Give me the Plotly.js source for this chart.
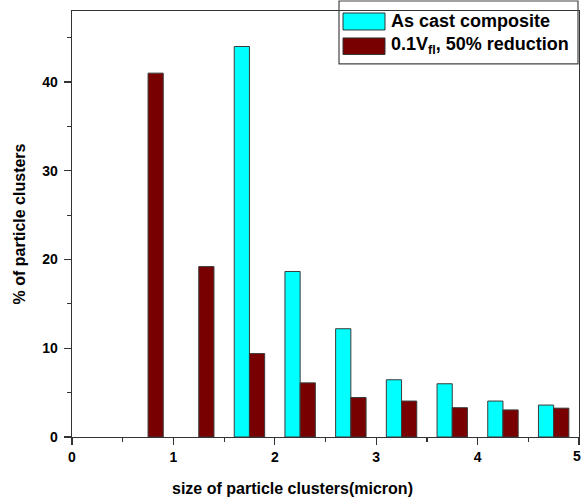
<!DOCTYPE html>
<html>
<head>
<meta charset="utf-8">
<script src="https://cdn.plot.ly/plotly-3.0.1.min.js"></script>
<style>html,body{margin:0;padding:0;background:#fff;}#chart{width:581px;height:500px;}</style>
</head>
<body>
<div id="chart"></div>
<script>
// ---- data ----
var sizes = [0.75, 1.25, 1.75, 2.25, 2.75, 3.25, 3.75, 4.25, 4.75];
var asCast = [null, null, 44.0, 18.65, 12.2, 6.45, 6.0, 4.05, 3.6];
var reduced = [41.0, 19.2, 9.4, 6.1, 4.45, 4.05, 3.3, 3.05, 3.25];
var seriesNames = ["As cast composite", "0.1V<sub>fl</sub>, 50% reduction"];
var seriesColors = ["#00FFFF", "#780000"];
var xTickVals = [0, 1, 2, 3, 4, 5];
var xTickText = ["0", "1", "2", "3", "4", "5"];
var yTickVals = [0, 10, 20, 30, 40];
var yTickText = ["0", "10", "20", "30", "40"];
var xTitle = "size of particle clusters(micron)";
var yTitle = "% of particle clusters";

// ---- layout helpers (pixel -> paper) ----
var W = 581, H = 500, mL = 72, mR = 2, mT = 11, mB = 62.5;
var pw = W - mL - mR, ph = H - mT - mB;
function px(x) { return (x - mL) / pw; }
function py(y) { return (H - mB - y) / ph; }
function bold(s) { return "<b>" + s + "</b>"; }

var font = "Liberation Sans, Arial, sans-serif";
var traces = [
  {type: "bar", x: sizes, y: asCast, name: seriesNames[0], showlegend: false,
   marker: {color: seriesColors[0], line: {color: "#3a3a3a", width: 1}}},
  {type: "bar", x: sizes, y: reduced, name: seriesNames[1], showlegend: false,
   marker: {color: seriesColors[1], line: {color: "#3a3a3a", width: 1}}}
];

// last x tick label sits at the right edge: draw it as an annotation kept inside the page
var lastIdx = xTickVals.length - 1;
var xTickTextShown = xTickText.map(function (s, i) { return i === lastIdx ? "" : bold(s); });

var shapes = [
  {type: "rect", xref: "paper", yref: "paper", x0: px(339), x1: px(578), y0: py(64), y1: py(1),
   line: {color: "#444", width: 1.2}, fillcolor: "rgba(255,255,255,0)"},
  {type: "rect", xref: "paper", yref: "paper", x0: px(343), x1: px(385), y0: py(30), y1: py(13),
   line: {color: "#333", width: 1}, fillcolor: seriesColors[0]},
  {type: "rect", xref: "paper", yref: "paper", x0: px(343), x1: px(385), y0: py(54.5), y1: py(38),
   line: {color: "#333", width: 1}, fillcolor: seriesColors[1]}
];

var annotations = [
  {xref: "paper", yref: "paper", x: px(389), y: py(21.5), xanchor: "left", yanchor: "middle",
   text: bold(seriesNames[0]), showarrow: false, font: {family: font, size: 18, color: "#000"}},
  {xref: "paper", yref: "paper", x: px(389), y: py(46), xanchor: "left", yanchor: "middle",
   text: bold(seriesNames[1]), showarrow: false, font: {family: font, size: 18, color: "#000"}},
  {xref: "paper", yref: "paper", x: px(292), y: py(489), xanchor: "center", yanchor: "middle",
   text: bold(xTitle), showarrow: false, font: {family: font, size: 16, color: "#000"}},
  {xref: "x", yref: "paper", x: xTickVals[lastIdx], y: py(457), xanchor: "center", yanchor: "middle",
   xshift: -2, text: bold(xTickText[lastIdx]), showarrow: false, font: {family: font, size: 14, color: "#000"}}
];

var layout = {
  width: W, height: H,
  margin: {l: mL, r: mR, t: mT, b: mB, pad: 0},
  paper_bgcolor: "#fff", plot_bgcolor: "#fff",
  font: {family: font, color: "#000"},
  barmode: "group", bargap: 0.4, bargroupgap: 0,
  showlegend: false,
  xaxis: {
    range: [0, 5], tickvals: xTickVals, ticktext: xTickTextShown,
    ticks: "outside", ticklen: 7, tickwidth: 1.2, tickcolor: "#333",
    minor: {dtick: 0.5, tick0: 0, ticks: "outside", ticklen: 4, tickwidth: 1.2, tickcolor: "#333"},
    showline: true, linecolor: "#333", linewidth: 1.3, mirror: true,
    showgrid: false, zeroline: false,
    tickfont: {family: font, size: 14, color: "#000"}
  },
  yaxis: {
    range: [0, 48], tickvals: yTickVals, ticktext: yTickText.map(bold),
    ticks: "outside", ticklen: 7, tickwidth: 1.2, tickcolor: "#333",
    minor: {dtick: 5, tick0: 0, ticks: "outside", ticklen: 4, tickwidth: 1.2, tickcolor: "#333"},
    showline: true, linecolor: "#333", linewidth: 1.3, mirror: true,
    showgrid: false, zeroline: false,
    ticklabelstandoff: 3,
    tickfont: {family: font, size: 14, color: "#000"},
    title: {text: bold(yTitle), font: {family: font, size: 16, color: "#000"}, standoff: 12}
  },
  shapes: shapes,
  annotations: annotations
};

Plotly.newPlot("chart", traces, layout, {displayModeBar: false, staticPlot: true});
</script>
</body>
</html>
